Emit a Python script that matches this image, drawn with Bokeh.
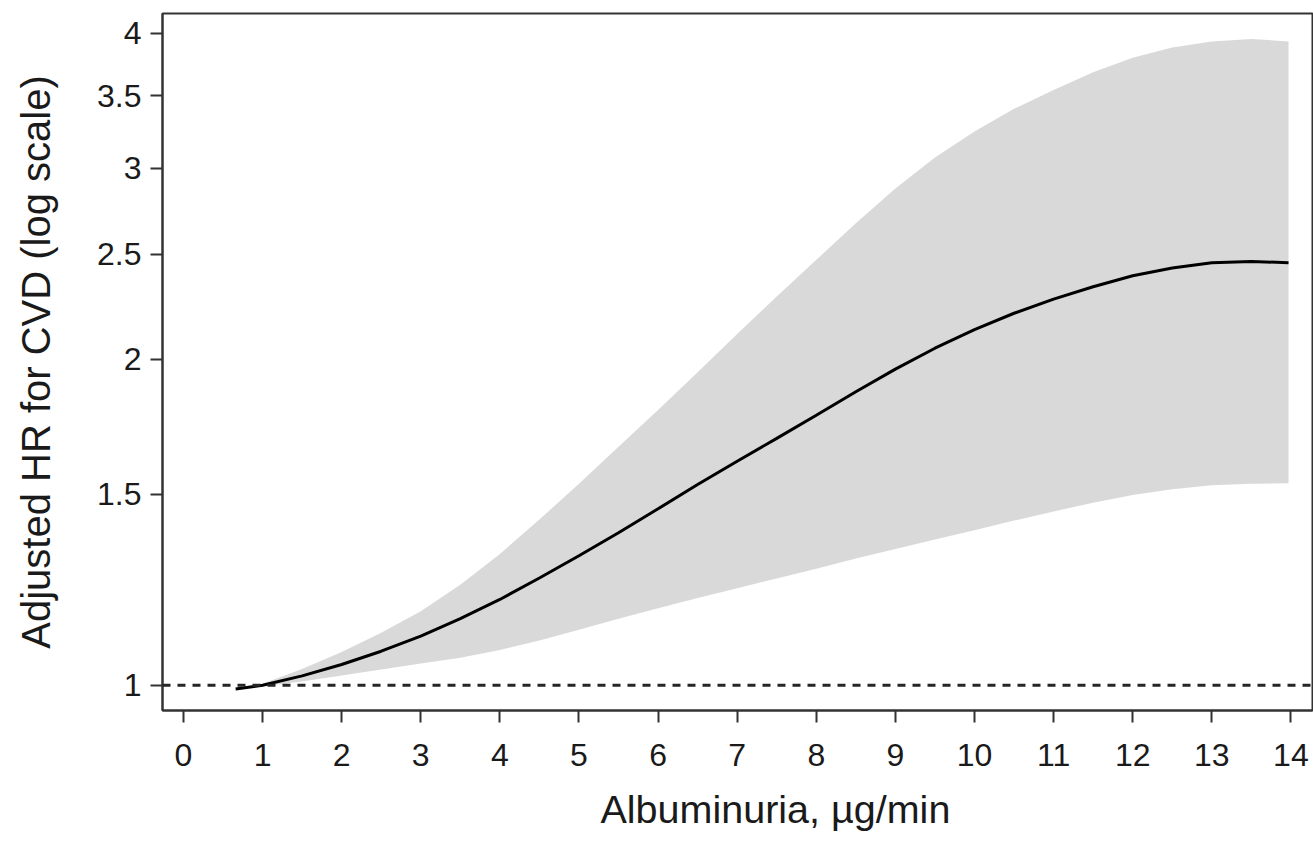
from bokeh.plotting import figure
from bokeh.models import Range1d, FixedTicker, Span, Title
from bokeh.embed import file_html
from bokeh.resources import INLINE

# Albuminuria (µg/min)
albuminuria = [0.66, 1.0, 1.5, 2.0, 2.5, 3.0, 3.5, 4.0, 4.5, 5.0, 5.5, 6.0, 6.5, 7.0,
               7.5, 8.0, 8.5, 9.0, 9.5, 10.0, 10.5, 11.0, 11.5, 12.0, 12.5, 13.0, 13.5, 13.97]
# Adjusted HR estimate
hr = [0.992, 1.0, 1.02, 1.045, 1.075, 1.11, 1.152, 1.20, 1.256, 1.317, 1.383, 1.455, 1.532, 1.61,
      1.69, 1.775, 1.866, 1.958, 2.047, 2.13, 2.205, 2.272, 2.333, 2.388, 2.428, 2.455, 2.462, 2.455]
# 95% CI upper
hr_upper = [0.995, 1.003, 1.035, 1.073, 1.118, 1.17, 1.238, 1.322, 1.422, 1.535, 1.66, 1.795, 1.945, 2.11,
            2.285, 2.47, 2.67, 2.875, 3.07, 3.245, 3.405, 3.545, 3.68, 3.795, 3.88, 3.93, 3.95, 3.93]
# 95% CI lower
hr_lower = [0.99, 0.998, 1.008, 1.021, 1.034, 1.047, 1.06, 1.078, 1.10, 1.125, 1.152, 1.178, 1.204, 1.229,
            1.255, 1.281, 1.309, 1.336, 1.363, 1.39, 1.419, 1.447, 1.474, 1.498, 1.517, 1.53, 1.535, 1.536]

x_ticks = list(range(0, 15))
y_ticks = [1, 1.5, 2, 2.5, 3, 3.5, 4]
y_tick_labels = {1: "1", 1.5: "1.5", 2: "2", 2.5: "2.5", 3: "3", 3.5: "3.5", 4: "4"}
x_title_text = "Albuminuria, µg/min"
y_title_text = "Adjusted HR for CVD (log scale)"

FONT = "Liberation Sans"
TXT = "#1a1a1a"

p = figure(width=1313, height=848, y_axis_type="log",
           x_range=Range1d(-0.265, 14.273), y_range=Range1d(0.9477, 4.17),
           output_backend="svg", toolbar_location=None,
           min_border_left=162, min_border_right=1, min_border_top=13, min_border_bottom=138)

p.varea(x=albuminuria, y1=hr_lower, y2=hr_upper, fill_color="#d9d9d9")
p.line(x=albuminuria, y=hr, line_color="black", line_width=3)
p.add_layout(Span(location=1, dimension="width", line_color="#262626",
                  line_width=3, line_dash="8 7"))

p.grid.visible = False
p.outline_line_color = "#333333"
p.outline_line_width = 2
p.background_fill_color = "white"
p.border_fill_color = "white"

p.xaxis.ticker = FixedTicker(ticks=x_ticks)
p.yaxis.ticker = FixedTicker(ticks=y_ticks)
p.yaxis.major_label_overrides = y_tick_labels

for ax in (p.xaxis[0], p.yaxis[0]):
    ax.axis_line_color = "#333333"
    ax.axis_line_width = 2
    ax.major_tick_line_color = "#333333"
    ax.major_tick_line_width = 2
    ax.major_tick_out = 12
    ax.major_tick_in = 0
    ax.minor_tick_line_color = None
    ax.major_label_text_font = FONT
    ax.major_label_text_font_size = "32px"
    ax.major_label_text_color = TXT
    ax.axis_label_text_font = FONT
    ax.axis_label_text_font_size = "40px"
    ax.axis_label_text_font_style = "normal"
    ax.axis_label_text_color = TXT

p.yaxis.axis_label = y_title_text
p.xaxis.major_label_standoff = 21
p.yaxis.major_label_standoff = 9
p.yaxis.axis_label_standoff = 36

x_title = Title(text=x_title_text, align="left", offset=438, vertical_align="middle",
                text_font=FONT, text_font_size="39.5px", text_font_style="normal",
                text_color=TXT, standoff=34)
p.add_layout(x_title, "below")

open("out.html", "w").write(file_html(p, INLINE))
